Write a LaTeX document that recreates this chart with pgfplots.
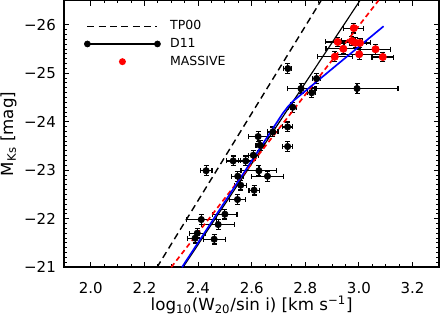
\documentclass[border=0pt]{standalone}
\usepackage{fontspec}
\setmainfont{DejaVu Sans}
\usepackage{pgfplots}
\usepackage{pgfplotstable}
\pgfplotsset{compat=1.18}
\usetikzlibrary{calc}

\pgfplotstableread{
x y ex ey
2.735 -25.097 0.015 0.11
2.842 -24.891 0.015 0.10
2.784 -24.685 0.049 0.10
2.824 -24.598 0.015 0.10
2.993 -24.685 0.153 0.10
2.753 -24.299 0.015 0.10
2.734 -23.893 0.019 0.10
2.734 -23.489 0.019 0.10
2.679 -23.790 0.019 0.10
2.624 -23.695 0.037 0.10
2.631 -23.515 0.015 0.10
2.606 -23.309 0.019 0.10
2.531 -23.192 0.026 0.10
2.578 -23.192 0.026 0.10
2.430 -22.990 0.022 0.10
2.627 -22.990 0.067 0.10
2.659 -22.876 0.060 0.10
2.548 -22.876 0.022 0.10
2.559 -22.691 0.022 0.10
2.609 -22.588 0.019 0.10
2.547 -22.396 0.030 0.10
2.500 -22.093 0.045 0.10
2.412 -21.983 0.056 0.10
2.475 -21.880 0.062 0.10
2.397 -21.701 0.030 0.10
2.460 -21.577 0.041 0.10
2.389 -21.598 0.030 0.10
}\dleven

\pgfplotstableread{
x y ex ey
2.981 -25.930 0.037 0.10
2.921 -25.645 0.045 0.10
2.974 -25.666 0.040 0.10
2.987 -25.629 0.040 0.10
3.004 -25.625 0.040 0.10
2.942 -25.505 0.065 0.10
3.062 -25.495 0.055 0.10
2.910 -25.340 0.065 0.10
3.001 -25.392 0.090 0.10
3.089 -25.335 0.040 0.10
}\massive

\begin{document}
\begin{tikzpicture}
\begin{axis}[
  scale only axis, width=225pt, height=159.9pt,
  xmin=1.9, xmax=3.3, ymin=-26.5, ymax=-21, y dir=reverse,
  xtick={2,2.2,2.4,2.6,2.8,3,3.2},
  xticklabels={2.0,2.2,2.4,2.6,2.8,3.0,3.2},
  ytick={-26,-25,-24,-23,-22,-21},
  yticklabels={−26,−25,−24,−23,−22,−21},
  minor x tick num=3, minor y tick num=9,
  tick align=inside, tick pos=both,
  major tick length=3.2pt, minor tick length=1.7pt,
  every tick/.style={black, line width=0.6pt},
  axis line style={line width=1pt},
  tick label style={font=\fontsize{9}{10}\selectfont},
  xticklabel style={yshift=-5.6pt},
  yticklabel style={xshift=-1.4pt},
  label style={font=\fontsize{9}{11}\selectfont},
  xlabel={log\textsubscript{10}(W\textsubscript{20}/sin i) [km s\textsuperscript{−1}]},
  ylabel={M\textsubscript{Ks} [mag]},
  every axis x label/.style={at={(rel axis cs:0.5,0)}, anchor=base, yshift=-26.1pt},
  every axis y label/.style={at={(rel axis cs:0,0.5)}, xshift=-30.6pt, rotate=90, anchor=base},
  legend style={draw=none, fill=none, inner sep=0pt, outer sep=0pt,
    at={(0,1)}, anchor=north west, xshift=12pt, yshift=-11.9pt,
    font=\fontsize{7.5}{8}\selectfont, row sep=3.6pt,
    nodes={inner sep=0pt},
    /tikz/every odd column/.append style={column sep=5.6pt}},
  legend cell align=left,
]
\addlegendimage{legend image code/.code={\draw[black, line width=0.8pt, dash pattern=on 4.2pt off 2.6pt] (0pt,0pt) -- (42pt,0pt);}}
\addlegendentry{TP00}
\addlegendimage{legend image code/.code={\draw[black, line width=0.8pt, solid] (0pt,0pt) -- (42pt,0pt); \fill[black] (0pt,0pt) circle (1.8pt); \fill[black] (42pt,0pt) circle (1.8pt);}}
\addlegendentry{D11}
\addlegendimage{draw=none, legend image code/.code={\path[draw=none] (0pt,0pt) -- (42pt,0pt); \fill[red, draw=none] (21pt,0pt) circle (2.1pt);}}
\addlegendentry{MASSIVE}

\addplot[forget plot, only marks, mark=*, mark size=1.9pt, black,
  mark options={fill=black, draw=black},
  error bars/.cd, x dir=both, x explicit, y dir=both, y explicit,
  error bar style={line width=0.7pt, black},
  error mark options={rotate=90, line width=0.7pt, mark size=1.5pt, black}]
  table[x=x, y=y, x error=ex, y error=ey]{\dleven};

\addplot[forget plot, only marks, mark=*, mark size=2.2pt, black,
  mark options={fill=red, draw=red},
  error bars/.cd, x dir=both, x explicit, y dir=both, y explicit,
  error bar style={line width=0.7pt, black},
  error mark options={rotate=90, line width=0.7pt, mark size=1.5pt, black}]
  table[x=x, y=y, x error=ex, y error=ey]{\massive};

\addplot[forget plot, black, line width=0.85pt, dash pattern=on 4pt off 2.6pt]
  coordinates {(2.247,-21) (2.859,-26.5)};
\addplot[forget plot, black, line width=0.7pt]
  coordinates {(2.344,-21) (3.004,-26.5)};
\addplot[forget plot, red, line width=1pt, dash pattern=on 3pt off 2pt]
  coordinates {(2.300,-21) (3.073,-26.5)};
\addplot[forget plot, blue, line width=1pt]
  coordinates {(2.340,-21.0) (2.715,-24.165) (2.735,-24.31) (2.755,-24.428) (3.092,-25.969)};
\end{axis}
\pgfresetboundingbox
\path ($(current axis.south west)+(-38.4pt,-28.2pt)$) rectangle ($(current axis.north east)+(1.6pt,0.3pt)$);
\end{tikzpicture}
\end{document}
